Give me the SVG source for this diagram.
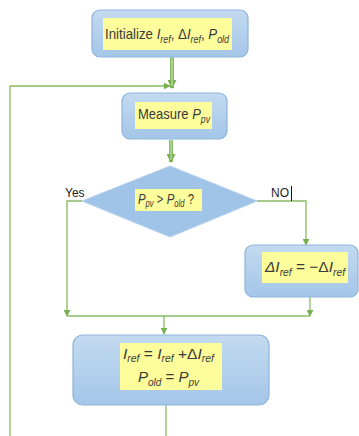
<svg xmlns="http://www.w3.org/2000/svg" width="359" height="436" viewBox="0 0 359 436">
<defs>
<linearGradient id="bg" x1="0" y1="0" x2="0" y2="1">
<stop offset="0" stop-color="#c3daf0"/>
<stop offset="1" stop-color="#a4c6e8"/>
</linearGradient>
<marker id="ah" viewBox="0 0 10 10" refX="9" refY="5" markerWidth="7" markerHeight="7" markerUnits="userSpaceOnUse" orient="auto">
<path d="M0,0 L10,5 L0,10 z" fill="#76b04f"/>
</marker>
<marker id="ahb" viewBox="0 0 10 10" refX="9" refY="5" markerWidth="9" markerHeight="9" markerUnits="userSpaceOnUse" orient="auto">
<path d="M0,0 L10,5 L0,10 z" fill="#76b04f"/>
</marker>
</defs>
<style>
.box{fill:url(#bg);stroke:#8fb3dc;stroke-width:1.2}
.hl{fill:#fdfd9c}
.t{font-family:"Liberation Sans",Arial,sans-serif;fill:#3a3a3a;font-size:15px}
.i{font-style:italic}
.s{font-size:10px;font-style:italic}
.ln{fill:none;stroke:#86bb63;stroke-width:1.3}
.thick{fill:none;stroke:#86bb63;stroke-width:4}
.thin2{fill:none;stroke:#c5e0b0;stroke-width:1.2}
.lab{font-family:"Liberation Sans",Arial,sans-serif;fill:#222;font-size:12px}
</style>
<rect width="359" height="436" fill="#ffffff"/>
<g id="connectors">
<path class="thick" d="M172,57 V88" marker-end="url(#ahb)"/>
<path class="thin2" d="M172,57 V86"/>
<path class="ln" d="M10,436 V86 H170" marker-end="url(#ah)"/>
<path class="thick" d="M171,140 V162" marker-end="url(#ahb)"/>
<path class="thin2" d="M171,140 V160"/>
<path class="ln" d="M82,201 H67 V316" marker-end="url(#ah)"/>
<path class="ln" d="M257,201 H306 V245" marker-end="url(#ah)"/>
<path class="ln" d="M310,297 V316" marker-end="url(#ah)"/>
<path class="ln" d="M67,316 H310"/>
<path class="ln" d="M164,316 V334" marker-end="url(#ah)"/>
<path class="ln" d="M166,405 V436"/>
</g>
<g id="init">
<rect class="box" x="92" y="10" width="156" height="47" rx="8"/>
<rect class="hl" x="103" y="18" width="129" height="32"/>
<text class="t" x="105" y="39" font-size="18" textLength="124" lengthAdjust="spacingAndGlyphs">Initialize <tspan class="i">I</tspan><tspan class="s" dy="4" font-size="11">ref</tspan><tspan dy="-4">, Δ</tspan><tspan class="i">I</tspan><tspan class="s" dy="4" font-size="11">ref</tspan><tspan dy="-4">, </tspan><tspan class="i">P</tspan><tspan class="s" dy="4" font-size="11">old</tspan></text>
</g>
<g id="measure">
<rect class="box" x="122" y="93" width="105" height="46" rx="8"/>
<rect class="hl" x="135" y="102" width="77" height="27"/>
<text class="t" x="138" y="119" font-size="15" textLength="72" lengthAdjust="spacingAndGlyphs">Measure <tspan class="i">P</tspan><tspan class="s" dy="4">pv</tspan></text>
</g>
<g id="decision">
<path d="M170,166 L257,201 L170,237 L82,201 Z" fill="#9fc4e7" stroke="#b5d1ee" stroke-width="1"/>
<rect class="hl" x="135" y="189" width="67" height="22"/>
<text class="t" x="138" y="204" font-size="13" textLength="56" lengthAdjust="spacingAndGlyphs"><tspan class="i">P</tspan><tspan class="s" dy="3" font-size="8">pv</tspan><tspan dy="-3"> &gt; </tspan><tspan class="i">P</tspan><tspan class="s" dy="3" font-size="8">old</tspan><tspan dy="-3"> ?</tspan></text>
<text class="lab" x="65" y="197">Yes</text>
<text class="lab" x="271" y="197">NO</text>
<path d="M291.5,186 V201" stroke="#111" stroke-width="1"/>
</g>
<g id="negate">
<rect class="box" x="245" y="245" width="113" height="52" rx="8"/>
<rect class="hl" x="262" y="252" width="86" height="31"/>
<text class="t" x="265" y="272" font-size="16" textLength="80" lengthAdjust="spacingAndGlyphs"><tspan class="i">ΔI</tspan><tspan class="s" dy="4">ref</tspan><tspan dy="-4"> = −Δ</tspan><tspan class="i">I</tspan><tspan class="s" dy="4">ref</tspan></text>
</g>
<g id="update">
<rect class="box" x="73" y="335" width="196" height="70" rx="10"/>
<rect class="hl" x="120" y="343" width="102" height="47"/>
<text class="t" x="123" y="359" font-size="14" textLength="91" lengthAdjust="spacingAndGlyphs"><tspan class="i">I</tspan><tspan class="s" dy="3">ref</tspan><tspan dy="-3"> = </tspan><tspan class="i">I</tspan><tspan class="s" dy="3">ref</tspan><tspan dy="-3"> +Δ</tspan><tspan class="i">I</tspan><tspan class="s" dy="3">ref</tspan></text>
<text class="t" x="138" y="382" font-size="16"><tspan class="i">P</tspan><tspan class="s" dy="4">old</tspan><tspan dy="-4"> = </tspan><tspan class="i">P</tspan><tspan class="s" dy="4">pv</tspan></text>
</g>
</svg>
